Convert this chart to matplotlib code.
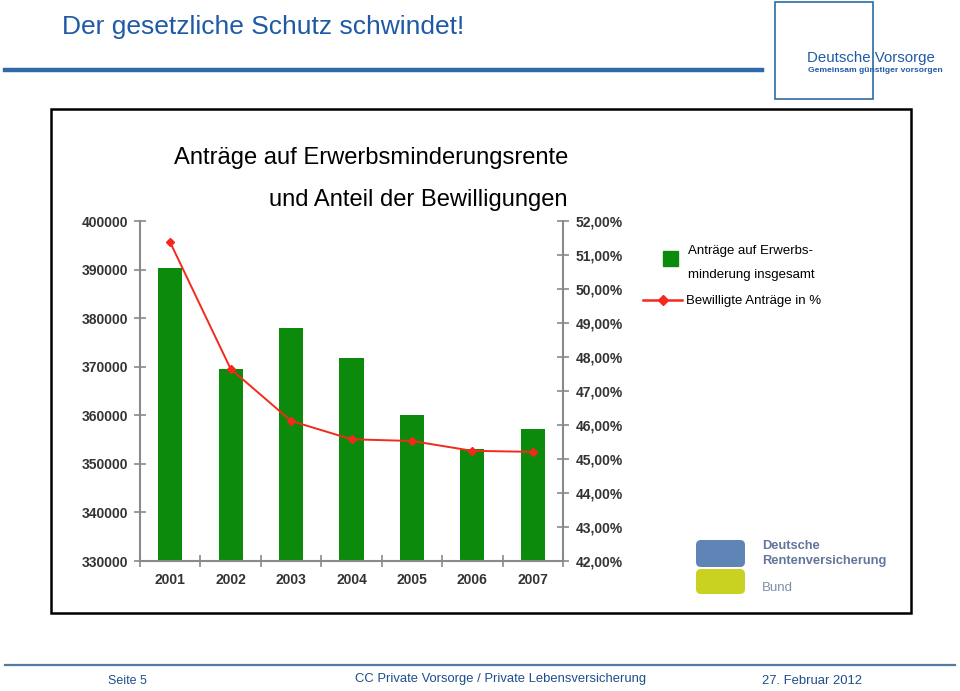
import matplotlib
matplotlib.use('Agg')
import matplotlib.pyplot as plt
from matplotlib.patches import Rectangle, FancyBboxPatch
from matplotlib.lines import Line2D

# ---- data ----
years = ['2001', '2002', '2003', '2004', '2005', '2006', '2007']
antraege = [390300, 369500, 378000, 371700, 360100, 353000, 357200]
bewilligt = [51.37, 47.65, 46.12, 45.58, 45.53, 45.24, 45.21]
left_ticks = [330000, 340000, 350000, 360000, 370000, 380000, 390000, 400000]
right_ticks = [42, 43, 44, 45, 46, 47, 48, 49, 50, 51, 52]

plt.rcParams['font.family'] = ['Liberation Sans', 'DejaVu Sans']

W, H = 960, 691
fig = plt.figure(figsize=(9.6, 6.91), dpi=100)

def fx(x):
    return x / W

def fy(y):
    return 1 - y / H

GREEN = '#0b8a0b'
RED = '#f5281e'
GRAY = '#8a8a8a'
LBL = '#333333'
BLUE = '#1f5aa6'

# ---- axes ----
ax = fig.add_axes([fx(140), fy(561), fx(563) - fx(140), fy(221) - fy(561)])
ax.set_facecolor('none')
x = list(range(len(years)))
ax.bar(x, antraege, width=0.4, color=GREEN, zorder=2)
ax.set_xlim(-0.5, 6.5)
ax.set_ylim(330000, 400000)
ax.set_yticks(left_ticks, [str(v) for v in left_ticks], fontweight='bold',
              fontsize=10, color=LBL)
ax.set_xticks(x, years, fontweight='bold', fontsize=10, color=LBL)
ax.set_xticks([i - 0.5 for i in range(len(years) + 1)], minor=True)
ax.tick_params(axis='x', which='major', length=0, pad=9)
ax.tick_params(axis='x', which='minor', direction='inout', length=8, width=1.2, color=GRAY)
ax.tick_params(axis='y', direction='inout', length=8, width=1.2, color=GRAY, pad=4.5)
for s in ['top', 'right']:
    ax.spines[s].set_visible(False)
for s in ['left', 'bottom']:
    ax.spines[s].set_color(GRAY)
    ax.spines[s].set_linewidth(1.5)

ax2 = ax.twinx()
ax2.plot(x, bewilligt, color=RED, lw=1.4, marker='D', markersize=4.5,
         markeredgecolor=RED, markerfacecolor=RED, zorder=3)
ax2.set_ylim(42, 52)
ax2.set_yticks(right_ticks, [f'{v:.2f}'.replace('.', ',') + '%' for v in right_ticks],
               fontweight='bold', fontsize=10, color=LBL)
ax2.tick_params(axis='y', direction='inout', length=8, width=1.2, color=GRAY, pad=5)
for s in ['top', 'left', 'bottom']:
    ax2.spines[s].set_visible(False)
ax2.spines['right'].set_color(GRAY)
ax2.spines['right'].set_linewidth(1.5)

# ---- chart frame & titles ----
fig.patches.append(Rectangle((fx(51), fy(613)), fx(911) - fx(51), fy(109) - fy(613),
                             transform=fig.transFigure, fill=False, edgecolor='black', lw=1.8))
fig.text(fx(371), fy(158), 'Anträge auf Erwerbsminderungsrente', ha='center', va='center',
         fontsize=17.1, color='black')
fig.text(fx(418), fy(200), 'und Anteil der Bewilligungen', ha='center', va='center',
         fontsize=17.1, color='black')

# ---- legend ----
fig.patches.append(Rectangle((fx(663), fy(266)), fx(678) - fx(663), fy(251) - fy(266),
                             transform=fig.transFigure, color=GREEN))
fig.text(fx(688), fy(251), 'Anträge auf Erwerbs-', ha='left', va='center', fontsize=9.5, color='black')
fig.text(fx(688), fy(275), 'minderung insgesamt', ha='left', va='center', fontsize=9.5, color='black')
fig.lines.append(Line2D([fx(643), fx(682)], [fy(300), fy(300)], transform=fig.transFigure,
                        color=RED, lw=1.8))
fig.lines.append(Line2D([fx(662.5)], [fy(300)], transform=fig.transFigure, color=RED,
                        marker='D', markersize=5, linestyle='none'))
fig.text(fx(686), fy(301), 'Bewilligte Anträge in %', ha='left', va='center', fontsize=9.5, color='black')

# ---- header ----
fig.text(fx(62), fy(27), 'Der gesetzliche Schutz schwindet!', ha='left', va='center',
         fontsize=19, color=BLUE)
fig.lines.append(Line2D([fx(5), fx(762)], [fy(70), fy(70)], transform=fig.transFigure,
                        color='#2d6aa6', lw=3.2))
fig.patches.append(Rectangle((fx(775), fy(99)), fx(873) - fx(775), fy(2) - fy(99),
                             transform=fig.transFigure, fill=False, edgecolor='#2d6aa6', lw=1.2))
fig.text(fx(807), fy(58), 'Deutsche Vorsorge', ha='left', va='center', fontsize=10.8, color='#1f5aa6')
fig.text(fx(808), fy(71), 'Gemeinsam günstiger vorsorgen', ha='left', va='center', fontsize=6.1,
         color='#1f5aa6', fontweight='bold')

# ---- DRV logo ----
fig.patches.append(FancyBboxPatch((696, H - 567), 49, 27, boxstyle='round,pad=0,rounding_size=5',
                                  transform=None, facecolor='#5f84b6', edgecolor='none'))
fig.patches.append(FancyBboxPatch((696, H - 594), 49, 25, boxstyle='round,pad=0,rounding_size=5',
                                  transform=None, facecolor='#c9d220', edgecolor='none'))
fig.text(fx(762), fy(546), 'Deutsche', ha='left', va='center', fontsize=9.3, color='#62759a',
         fontweight='bold')
fig.text(fx(762), fy(561), 'Rentenversicherung', ha='left', va='center', fontsize=9.3,
         color='#62759a', fontweight='bold')
fig.text(fx(762), fy(588), 'Bund', ha='left', va='center', fontsize=9.5, color='#7d8eaa')

# ---- footer ----
fig.lines.append(Line2D([fx(5), fx(955)], [fy(665), fy(665)], transform=fig.transFigure,
                        color='#557aa0', lw=1.6))
fig.text(fx(108), fy(681), 'Seite 5', ha='left', va='center', fontsize=8.9, color='#1f4e8c')
fig.text(fx(501), fy(679), 'CC Private Vorsorge / Private Lebensversicherung', ha='center',
         va='center', fontsize=9.4, color='#1f4e8c')
fig.text(fx(762), fy(681), '27. Februar 2012', ha='left', va='center', fontsize=9.4, color='#1f4e8c')

fig.savefig('out.png', dpi=100)
